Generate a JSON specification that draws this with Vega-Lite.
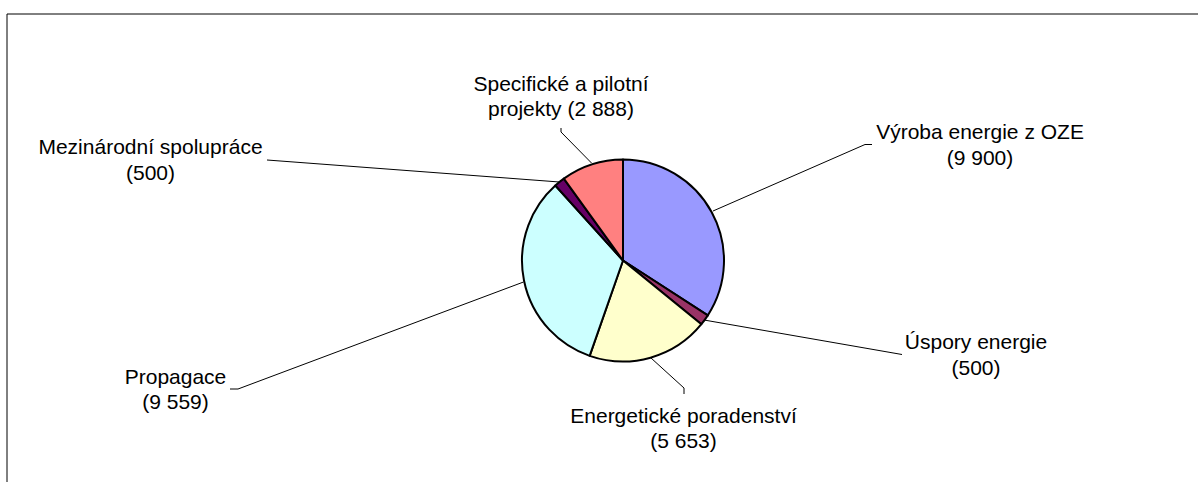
{
  "$schema": "https://vega.github.io/schema/vega-lite/v6.json",
  "autosize": "none",
  "width": 1150,
  "height": 443,
  "padding": {"left": 48, "top": 39, "right": 0, "bottom": 0},
  "background": "white",
  "config": {"view": {"stroke": null}, "font": "Liberation Sans"},
  "datasets": {
    "slices": [
      {"kategorie": "Výroba energie z OZE", "hodnota": 9900, "poradi": 1},
      {"kategorie": "Úspory energie", "hodnota": 500, "poradi": 2},
      {"kategorie": "Energetické poradenství", "hodnota": 5653, "poradi": 3},
      {"kategorie": "Propagace", "hodnota": 9559, "poradi": 4},
      {"kategorie": "Mezinárodní spolupráce", "hodnota": 500, "poradi": 5},
      {"kategorie": "Specifické a pilotní projekty", "hodnota": 2888, "poradi": 6}
    ],
    "labels": [
      {"kategorie": "Výroba energie z OZE", "popisek": "Výroba energie z OZE\n(9 900)", "lx": 980, "ly": 139},
      {"kategorie": "Úspory energie", "popisek": "Úspory energie\n(500)", "lx": 976, "ly": 349},
      {"kategorie": "Energetické poradenství", "popisek": "Energetické poradenství\n(5 653)", "lx": 683.5, "ly": 422.5},
      {"kategorie": "Propagace", "popisek": "Propagace\n(9 559)", "lx": 175.5, "ly": 383.5},
      {"kategorie": "Mezinárodní spolupráce", "popisek": "Mezinárodní spolupráce\n(500)", "lx": 150.5, "ly": 154},
      {"kategorie": "Specifické a pilotní projekty", "popisek": "Specifické a pilotní\nprojekty (2 888)", "lx": 561, "ly": 90.5}
    ],
    "leaders": [
      {"kategorie": "Výroba energie z OZE", "bod": 1, "lx": 713, "ly": 211},
      {"kategorie": "Výroba energie z OZE", "bod": 2, "lx": 865, "ly": 144.5},
      {"kategorie": "Výroba energie z OZE", "bod": 3, "lx": 872, "ly": 144.5},
      {"kategorie": "Úspory energie", "bod": 1, "lx": 704, "ly": 320},
      {"kategorie": "Úspory energie", "bod": 2, "lx": 902, "ly": 354.5},
      {"kategorie": "Energetické poradenství", "bod": 1, "lx": 651, "ly": 358},
      {"kategorie": "Energetické poradenství", "bod": 2, "lx": 684, "ly": 388},
      {"kategorie": "Energetické poradenství", "bod": 3, "lx": 684, "ly": 394},
      {"kategorie": "Propagace", "bod": 1, "lx": 523.5, "ly": 282},
      {"kategorie": "Propagace", "bod": 2, "lx": 238, "ly": 389},
      {"kategorie": "Propagace", "bod": 3, "lx": 230, "ly": 389},
      {"kategorie": "Mezinárodní spolupráce", "bod": 1, "lx": 559.5, "ly": 182},
      {"kategorie": "Mezinárodní spolupráce", "bod": 2, "lx": 267, "ly": 160},
      {"kategorie": "Specifické a pilotní projekty", "bod": 1, "lx": 591.5, "ly": 163},
      {"kategorie": "Specifické a pilotní projekty", "bod": 2, "lx": 561, "ly": 132},
      {"kategorie": "Specifické a pilotní projekty", "bod": 3, "lx": 561, "ly": 128}
    ]
  },
  "layer": [
    {
      "data": {"name": "slices"},
      "mark": {"type": "arc", "outerRadius": 101, "stroke": "black", "strokeWidth": 2, "strokeJoin": "round"},
      "encoding": {
        "theta": {"field": "hodnota", "type": "quantitative", "stack": true},
        "order": {"field": "poradi", "type": "quantitative"},
        "color": {
          "field": "kategorie",
          "type": "nominal",
          "legend": null,
          "scale": {
            "domain": ["Výroba energie z OZE", "Úspory energie", "Energetické poradenství", "Propagace", "Mezinárodní spolupráce", "Specifické a pilotní projekty"],
            "range": ["#9999FF", "#993366", "#FFFFCC", "#CCFFFF", "#660066", "#FF8080"]
          }
        }
      }
    },
    {
      "data": {"name": "leaders"},
      "mark": {"type": "line", "color": "black", "strokeWidth": 1},
      "encoding": {
        "x": {"field": "lx", "type": "quantitative", "scale": {"domain": [48, 1198], "zero": false, "nice": false}, "axis": null},
        "y": {"field": "ly", "type": "quantitative", "scale": {"domain": [39, 482], "zero": false, "nice": false, "reverse": true}, "axis": null},
        "detail": {"field": "kategorie", "type": "nominal"},
        "order": {"field": "bod", "type": "quantitative"}
      }
    },
    {
      "data": {"name": "labels"},
      "mark": {"type": "text", "fontSize": 21, "font": "Liberation Sans", "align": "center", "baseline": "alphabetic", "lineBreak": "\n", "lineHeight": 25.7, "color": "black"},
      "encoding": {
        "x": {"field": "lx", "type": "quantitative"},
        "y": {"field": "ly", "type": "quantitative"},
        "text": {"field": "popisek", "type": "nominal"}
      }
    },
    {
      "data": {"values": [{}]},
      "mark": {"type": "rule", "color": "black", "strokeWidth": 1},
      "encoding": {
        "x": {"datum": 7, "type": "quantitative"},
        "y": {"datum": 14, "type": "quantitative"},
        "y2": {"datum": 482}
      }
    },
    {
      "data": {"values": [{}]},
      "mark": {"type": "rule", "color": "black", "strokeWidth": 1},
      "encoding": {
        "x": {"datum": 7, "type": "quantitative"},
        "x2": {"datum": 1198},
        "y": {"datum": 14, "type": "quantitative"}
      }
    }
  ]
}
